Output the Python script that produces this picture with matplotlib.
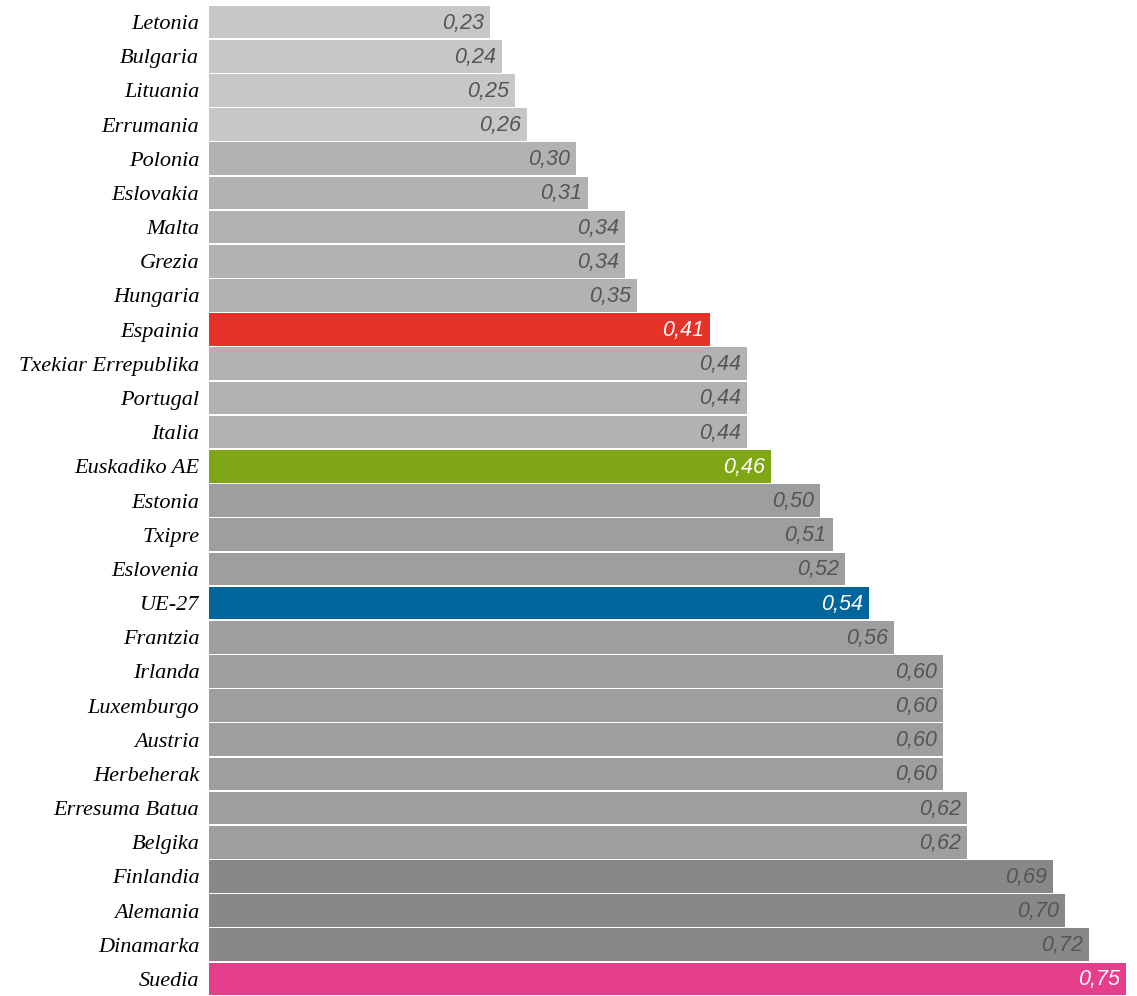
import matplotlib.pyplot as plt

# data, top to bottom
countries = ['Letonia', 'Bulgaria', 'Lituania', 'Errumania', 'Polonia', 'Eslovakia',
             'Malta', 'Grezia', 'Hungaria', 'Espainia', 'Txekiar Errepublika',
             'Portugal', 'Italia', 'Euskadiko AE', 'Estonia', 'Txipre', 'Eslovenia',
             'UE-27', 'Frantzia', 'Irlanda', 'Luxemburgo', 'Austria', 'Herbeherak',
             'Erresuma Batua', 'Belgika', 'Finlandia', 'Alemania', 'Dinamarka', 'Suedia']
values = [0.23, 0.24, 0.25, 0.26, 0.30, 0.31, 0.34, 0.34, 0.35, 0.41, 0.44, 0.44, 0.44,
          0.46, 0.50, 0.51, 0.52, 0.54, 0.56, 0.60, 0.60, 0.60, 0.60, 0.62, 0.62,
          0.69, 0.70, 0.72, 0.75]

highlight = {'Espainia': '#e6332a', 'Euskadiko AE': '#7fa614',
             'UE-27': '#00669c', 'Suedia': '#e63e8a'}


def gray_for(v):
    if v < 0.28:
        return '#c6c7c9'
    if v < 0.45:
        return '#b1b2b4'
    if v < 0.65:
        return '#9d9ea0'
    return '#87888a'


colors = [highlight.get(c, gray_for(v)) for c, v in zip(countries, values)]

fig = plt.figure(figsize=(11.37, 9.96), dpi=100)
ax = fig.add_axes([209 / 1137, 0, (1126 - 209) / 1137, 991 / 996])

y = list(range(len(countries)))
ax.barh(y, values, height=0.955, color=colors, edgecolor='none')
ax.set_xlim(0, 0.75)
ax.set_ylim(len(countries) - 0.5, -0.5)

for i, (c, v) in enumerate(zip(countries, values)):
    tc = 'white' if c in highlight else '#555555'
    ax.annotate(f'{v:.2f}'.replace('.', ','), (v, i), xytext=(-6, -1),
                textcoords='offset pixels', ha='right', va='center',
                fontsize=15.5, fontstyle='italic', family='Liberation Sans', color=tc)

ax.set_yticks(y)
ax.set_yticklabels(countries, fontsize=16, fontstyle='italic', family='Liberation Serif')
ax.tick_params(axis='y', length=0, pad=7)
ax.set_xticks([])
for s in ax.spines.values():
    s.set_visible(False)

fig.savefig('out.png', dpi=100)
